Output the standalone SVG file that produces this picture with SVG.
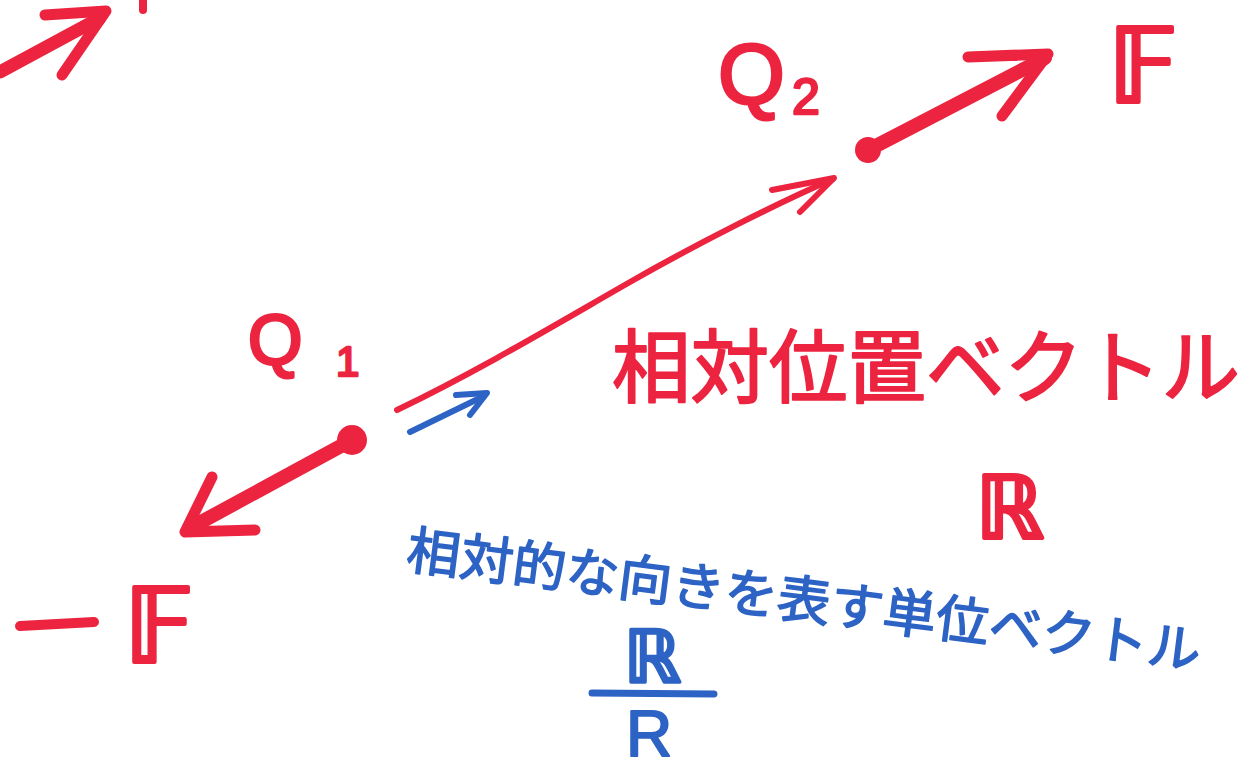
<svg xmlns="http://www.w3.org/2000/svg" width="1250" height="773" viewBox="0 0 1250 773">
<style>
.r{stroke:#ec2440;fill:none;stroke-linecap:round;stroke-linejoin:round}
.b{stroke:#2d63c4;fill:none;stroke-linecap:round;stroke-linejoin:round}
.rt{fill:#ec2440;stroke:#ec2440;stroke-linejoin:round;font-family:"Liberation Sans","Noto Sans CJK JP",sans-serif}
.bt{fill:#2d63c4;stroke:#2d63c4;stroke-linejoin:round;font-family:"Liberation Sans","Noto Sans CJK JP",sans-serif}
.jp{font-family:"Noto Sans CJK JP",sans-serif}
.ds{font-family:"DejaVu Sans","Noto Sans",sans-serif}
</style>
<rect width="1250" height="773" fill="#fff"/>
<g id="connectors">
<g id="edge-top-left">
<path class="r" d="M0,72 L100,18" stroke-width="13"/>
<path class="r" d="M45,15 L106,11 L62,75" stroke-width="11"/>
<path class="r" d="M143,0 L143,10" stroke-width="8"/>
</g>
<g id="edge-Q2-F">
<path class="r" d="M868,150 L1045,58" stroke-width="14"/>
<path class="r" d="M968,57 L1048,54 L1002,116" stroke-width="11"/>
</g>
<g id="edge-R">
<path class="r" d="M397,410 C480,370 560,322 630,282 C700,242 780,202 833,179" stroke-width="6"/>
<path class="r" d="M772,190 L834,178 L800,212" stroke-width="6"/>
</g>
<g id="edge-Q1-minusF">
<path class="r" d="M352,440 L190,528" stroke-width="14"/>
<path class="r" d="M212,477 L185,532 L255,530" stroke-width="11"/>
</g>
<g id="edge-unit">
<path class="b" d="M410,432 L484,396" stroke-width="6"/>
<path class="b" d="M456,395 L487,393 L470,415" stroke-width="6"/>
</g>
</g>
<g id="Q2">
<circle cx="868" cy="150" r="13" fill="#ec2440"/>
<text class="rt" x="718" y="104" font-size="86" stroke-width="3">Q</text>
<text class="rt" x="792" y="114" font-size="50" stroke-width="2.5">2</text>
</g>
<g id="F">
<text class="rt ds" x="1108" y="102" font-size="104" stroke-width="4">𝔽</text>
</g>
<g id="Q1">
<circle cx="352" cy="440" r="15" fill="#ec2440"/>
<text class="rt" x="248" y="364" font-size="70" stroke-width="3">Q</text>
<text class="rt" x="336" y="376" font-size="42" stroke-width="2.5">1</text>
</g>
<g id="minusF">
<path class="r" d="M20,626 L94,622" stroke-width="10"/>
<text class="rt ds" x="124" y="662" font-size="104" stroke-width="4">𝔽</text>
</g>
<g id="relpos">
<text class="rt jp" x="612" y="396" font-size="80" stroke-width="2" textLength="628" lengthAdjust="spacingAndGlyphs">相対位置ベクトル</text>
<text class="rt ds" x="976" y="538" font-size="86" stroke-width="4">ℝ</text>
</g>
<g id="unit">
<text class="bt jp" x="405" y="568" font-size="52" stroke-width="1.5" textLength="800" lengthAdjust="spacingAndGlyphs" transform="rotate(7.3 405 568)">相対的な向きを表す単位ベクトル</text>
<text class="bt ds" x="624" y="682" font-size="72" stroke-width="3.5">ℝ</text>
<path class="b" d="M592,693 L714,694" stroke-width="7"/>
<text class="bt" x="626" y="756" font-size="64" stroke-width="2">R</text>
</g>
</svg>
